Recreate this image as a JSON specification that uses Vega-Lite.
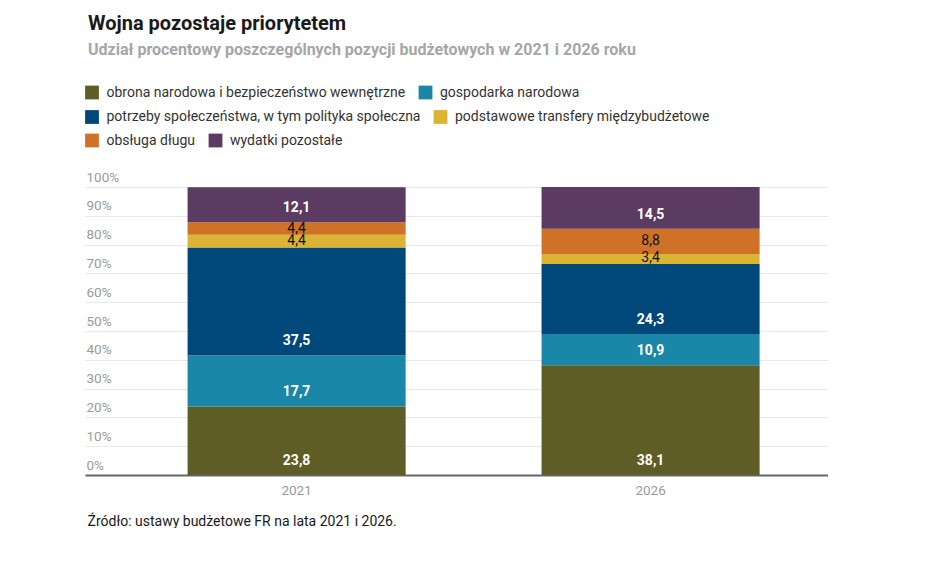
{
  "$schema": "https://vega.github.io/schema/vega-lite/v6.json",
  "description": "Udział procentowy poszczególnych pozycji budżetowych w 2021 i 2026 roku",
  "width": 743,
  "height": 288,
  "padding": {"left": 85, "top": 13, "right": 0, "bottom": 0},
  "config": {
    "font": "Roboto",
    "view": {"stroke": null},
    "locale": {"number": {"decimal": ",", "thousands": " ", "grouping": [3], "currency": ["", " zł"]}},
    "legend": {
      "title": null,
      "orient": "none",
      "direction": "horizontal",
      "symbolType": "square",
      "symbolSize": 190,
      "symbolStrokeWidth": 0,
      "labelFontSize": 14,
      "labelColor": "#333333",
      "labelOffset": 7.5,
      "labelLimit": 0,
      "columnPadding": 12.5
    }
  },
  "title": {
    "text": "Wojna pozostaje priorytetem",
    "subtitle": "Udział procentowy poszczególnych pozycji budżetowych w 2021 i 2026 roku",
    "anchor": "start",
    "frame": "group",
    "dx": 3,
    "fontSize": 20,
    "fontWeight": "bold",
    "color": "#1a1a1a",
    "subtitleFontSize": 16,
    "subtitleFontWeight": "bold",
    "subtitleColor": "#a6a6a6",
    "subtitlePadding": 8,
    "offset": 28
  },
  "data": {
    "values": [
      {"rok": "2021", "kategoria": "obrona narodowa i bezpieczeństwo wewnętrzne", "udzial": 23.8, "nr": 1},
      {"rok": "2021", "kategoria": "gospodarka narodowa", "udzial": 17.7, "nr": 2},
      {"rok": "2021", "kategoria": "potrzeby społeczeństwa, w tym polityka społeczna", "udzial": 37.5, "nr": 3},
      {"rok": "2021", "kategoria": "podstawowe transfery międzybudżetowe", "udzial": 4.4, "nr": 4},
      {"rok": "2021", "kategoria": "obsługa długu", "udzial": 4.4, "nr": 5},
      {"rok": "2021", "kategoria": "wydatki pozostałe", "udzial": 12.1, "nr": 6},
      {"rok": "2026", "kategoria": "obrona narodowa i bezpieczeństwo wewnętrzne", "udzial": 38.1, "nr": 1},
      {"rok": "2026", "kategoria": "gospodarka narodowa", "udzial": 10.9, "nr": 2},
      {"rok": "2026", "kategoria": "potrzeby społeczeństwa, w tym polityka społeczna", "udzial": 24.3, "nr": 3},
      {"rok": "2026", "kategoria": "podstawowe transfery międzybudżetowe", "udzial": 3.4, "nr": 4},
      {"rok": "2026", "kategoria": "obsługa długu", "udzial": 8.8, "nr": 5},
      {"rok": "2026", "kategoria": "wydatki pozostałe", "udzial": 14.5, "nr": 6}
    ]
  },
  "transform": [
    {"stack": "udzial", "groupby": ["rok"], "sort": [{"field": "nr"}], "as": ["dol", "gora"]}
  ],
  "encoding": {
    "x": {
      "field": "rok",
      "type": "nominal",
      "scale": {"paddingInner": 0.384, "paddingOuter": 0.2415, "align": 0.6},
      "axis": {
        "labelAngle": 0,
        "labelColor": "#9a9a9a",
        "labelFontSize": 13.5,
        "labelPadding": 8,
        "ticks": false,
        "domainColor": "#666666",
        "domainWidth": 2,
        "title": "Źródło: ustawy budżetowe FR na lata 2021 i 2026.",
        "titleAlign": "left",
        "titleAnchor": "start",
        "titleBaseline": "alphabetic",
        "titleX": 2,
        "titleY": 50,
        "titleFontSize": 14,
        "titleFontWeight": "normal",
        "titleColor": "#1a1a1a"
      }
    },
    "y": {
      "field": "dol",
      "type": "quantitative",
      "scale": {"domain": [0, 100]},
      "axis": {
        "title": null,
        "values": [0, 10, 20, 30, 40, 50, 60, 70, 80, 90, 100],
        "labelOverlap": false,
        "labelExpr": "datum.value + '%'",
        "labelAlign": "left",
        "labelBaseline": "bottom",
        "labelOffset": -3,
        "labelPadding": -1,
        "labelColor": "#9a9a9a",
        "labelFontSize": 13.5,
        "ticks": false,
        "tickSize": 0,
        "domain": false,
        "grid": true,
        "gridColor": "#e8e8e8",
        "gridWidth": 1
      }
    }
  },
  "layer": [
    {
      "transform": [{"filter": "datum.nr <= 2"}],
      "mark": {"type": "bar"},
      "encoding": {
        "y2": {"field": "gora"},
        "color": {
          "field": "kategoria",
          "type": "nominal",
          "sort": null,
          "scale": {
            "domain": ["obrona narodowa i bezpieczeństwo wewnętrzne", "gospodarka narodowa"],
            "range": ["#5e5d25", "#1a86a8"]
          },
          "legend": {"legendX": 0, "legendY": -101.5}
        }
      }
    },
    {
      "transform": [{"filter": "datum.nr == 3 || datum.nr == 4"}],
      "mark": {"type": "bar"},
      "encoding": {
        "y2": {"field": "gora"},
        "color": {
          "field": "kategoria",
          "type": "nominal",
          "sort": null,
          "scale": {
            "domain": ["potrzeby społeczeństwa, w tym polityka społeczna", "podstawowe transfery międzybudżetowe"],
            "range": ["#00487a", "#dbb433"]
          },
          "legend": {"legendX": 0, "legendY": -77}
        }
      }
    },
    {
      "transform": [{"filter": "datum.nr >= 5"}],
      "mark": {"type": "bar"},
      "encoding": {
        "y2": {"field": "gora"},
        "color": {
          "field": "kategoria",
          "type": "nominal",
          "sort": null,
          "scale": {
            "domain": ["obsługa długu", "wydatki pozostałe"],
            "range": ["#cf7127", "#5b3b61"]
          },
          "legend": {"legendX": 0, "legendY": -53.5}
        }
      }
    },
    {
      "transform": [{"filter": "datum.nr != 4 && datum.nr != 5"}],
      "mark": {"type": "text", "baseline": "middle", "dy": -14, "fontSize": 14, "fontWeight": "bold", "color": "white"},
      "encoding": {
        "text": {"field": "udzial", "type": "quantitative", "format": ".1f"}
      }
    },
    {
      "transform": [{"filter": "(datum.nr == 4 || datum.nr == 5) && datum.udzial >= 5"}],
      "mark": {"type": "text", "baseline": "middle", "dy": -13.5, "fontSize": 14, "fontWeight": "normal", "color": "#111111"},
      "encoding": {
        "text": {"field": "udzial", "type": "quantitative", "format": ".1f"}
      }
    },
    {
      "transform": [{"filter": "(datum.nr == 4 || datum.nr == 5) && datum.udzial < 5"}],
      "mark": {"type": "text", "baseline": "middle", "dy": -6, "fontSize": 14, "fontWeight": "normal", "color": "#111111"},
      "encoding": {
        "text": {"field": "udzial", "type": "quantitative", "format": ".1f"}
      }
    }
  ],
  "resolve": {"scale": {"color": "independent"}}
}
